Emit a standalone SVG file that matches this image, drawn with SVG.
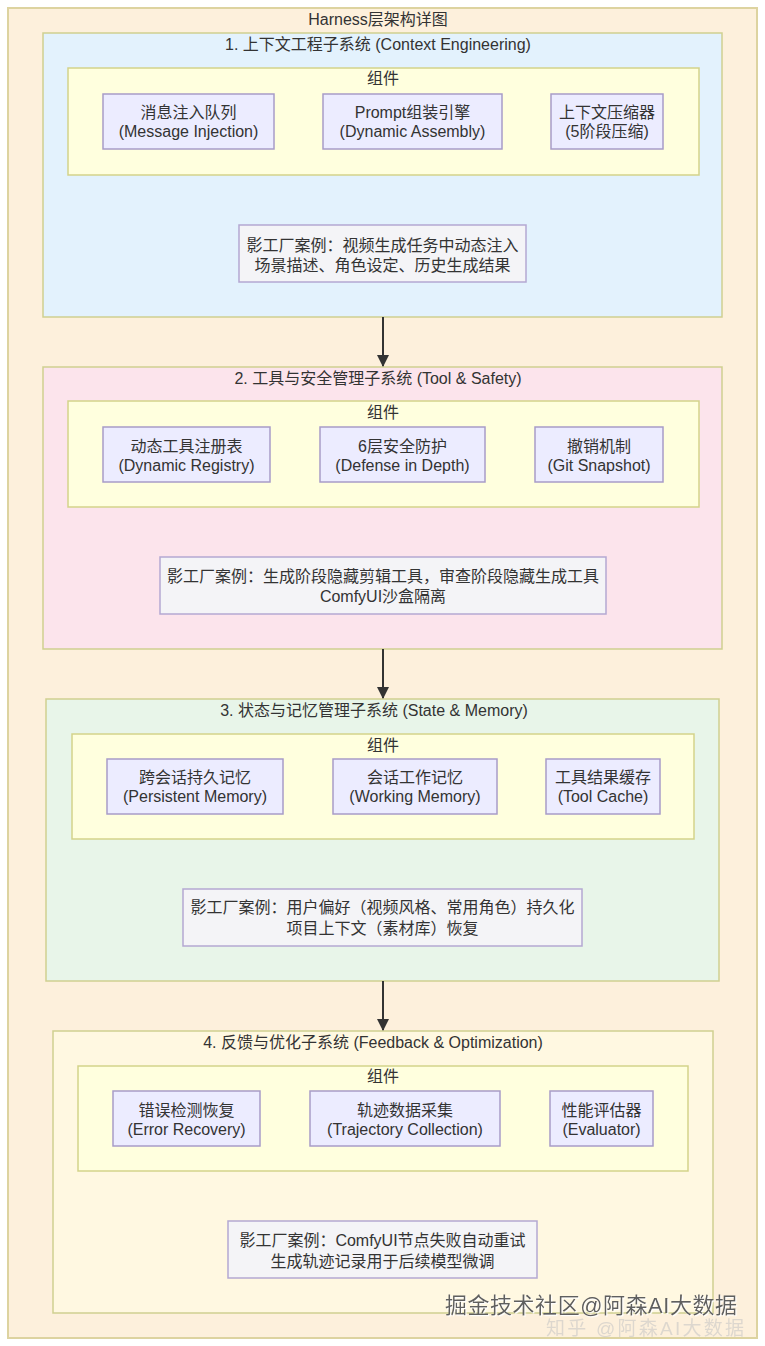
<svg xmlns="http://www.w3.org/2000/svg" width="765" height="1346" viewBox="0 0 765 1346">
<style>
text{font-family:"Liberation Sans","Noto Sans CJK SC",sans-serif;font-size:16px;fill:#333;text-anchor:middle}
.outer{fill:#fdf0dc;stroke:#ddd3a0;stroke-width:2}
.sub{stroke:#cfcf90;stroke-width:1.5}
.inner{fill:#ffffde;stroke:#d4d38a;stroke-width:1.5}
.node{fill:#ececff;stroke:#a89cc8;stroke-width:1.5}
.case{fill:#f4f4f7;stroke:#b4a8d2;stroke-width:1.5}
.edge{stroke:#333;stroke-width:2;fill:none}
.wm{font-size:22px;fill:#5e5e5e;text-anchor:start}
</style>
<defs>
<marker id="arrow" viewBox="0 0 12 12" refX="11" refY="6" markerWidth="12" markerHeight="12" markerUnits="userSpaceOnUse" orient="auto">
<path d="M0,0 L12,6 L0,12 z" fill="#333"/>
</marker>
<filter id="wmshadow" x="-5%" y="-30%" width="110%" height="160%">
<feDropShadow dx="1.2" dy="1.2" stdDeviation="0.4" flood-color="#ffffff" flood-opacity="1"/>
</filter>
</defs>

<g id="harness">
<rect class="outer" x="8" y="8" width="749" height="1330"/>
<text x="378" y="25">Harness层架构详图</text>
</g>

<g id="sub1">
<rect class="sub" x="43" y="33" width="679" height="284" fill="#e3f2fd"/>
<text x="378" y="50">1. 上下文工程子系统 (Context Engineering)</text>
<g id="comp1">
<rect class="inner" x="68" y="68" width="631" height="107"/>
<text x="383" y="84">组件</text>
</g>
<g id="n1a"><rect class="node" x="103" y="94" width="171" height="55"/><text x="188.5" y="118">消息注入队列</text><text x="188.5" y="137">(Message Injection)</text></g>
<g id="n1b"><rect class="node" x="323" y="94" width="179" height="55"/><text x="412.5" y="118">Prompt组装引擎</text><text x="412.5" y="137">(Dynamic Assembly)</text></g>
<g id="n1c"><rect class="node" x="551" y="94" width="112" height="55"/><text x="607" y="118">上下文压缩器</text><text x="607" y="137">(5阶段压缩)</text></g>
<g id="case1"><rect class="case" x="239" y="225" width="287" height="57"/><text x="382.5" y="251">影工厂案例：视频生成任务中动态注入</text><text x="382.5" y="271">场景描述、角色设定、历史生成结果</text></g>
</g>

<g id="sub2">
<rect class="sub" x="43" y="367" width="679" height="282" fill="#fce4ec"/>
<text x="378" y="384">2. 工具与安全管理子系统 (Tool &amp; Safety)</text>
<g id="comp2">
<rect class="inner" x="68" y="401" width="631" height="106"/>
<text x="383" y="418">组件</text>
</g>
<g id="n2a"><rect class="node" x="103" y="427" width="167" height="55"/><text x="186.5" y="452">动态工具注册表</text><text x="186.5" y="471">(Dynamic Registry)</text></g>
<g id="n2b"><rect class="node" x="320" y="427" width="165" height="55"/><text x="402.5" y="452">6层安全防护</text><text x="402.5" y="471">(Defense in Depth)</text></g>
<g id="n2c"><rect class="node" x="535" y="427" width="128" height="55"/><text x="599" y="452">撤销机制</text><text x="599" y="471">(Git Snapshot)</text></g>
<g id="case2"><rect class="case" x="160" y="557" width="446" height="57"/><text x="383" y="582">影工厂案例：生成阶段隐藏剪辑工具，审查阶段隐藏生成工具</text><text x="383" y="602">ComfyUI沙盒隔离</text></g>
</g>

<g id="sub3">
<rect class="sub" x="46" y="699" width="673" height="282" fill="#e8f5e9"/>
<text x="374" y="716">3. 状态与记忆管理子系统 (State &amp; Memory)</text>
<g id="comp3">
<rect class="inner" x="72" y="734" width="622" height="105"/>
<text x="383" y="751">组件</text>
</g>
<g id="n3a"><rect class="node" x="107" y="759" width="176" height="55"/><text x="195" y="783">跨会话持久记忆</text><text x="195" y="802">(Persistent Memory)</text></g>
<g id="n3b"><rect class="node" x="333" y="759" width="164" height="55"/><text x="415" y="783">会话工作记忆</text><text x="415" y="802">(Working Memory)</text></g>
<g id="n3c"><rect class="node" x="546" y="759" width="114" height="55"/><text x="603" y="783">工具结果缓存</text><text x="603" y="802">(Tool Cache)</text></g>
<g id="case3"><rect class="case" x="183" y="889" width="399" height="57"/><text x="382.5" y="913">影工厂案例：用户偏好（视频风格、常用角色）持久化</text><text x="382.5" y="934">项目上下文（素材库）恢复</text></g>
</g>

<g id="sub4">
<rect class="sub" x="53" y="1031" width="660" height="282" fill="#fff8e1"/>
<text x="373" y="1048">4. 反馈与优化子系统 (Feedback &amp; Optimization)</text>
<g id="comp4">
<rect class="inner" x="78" y="1066" width="610" height="105"/>
<text x="383" y="1082">组件</text>
</g>
<g id="n4a"><rect class="node" x="113" y="1091" width="147" height="55"/><text x="186.5" y="1116">错误检测恢复</text><text x="186.5" y="1135">(Error Recovery)</text></g>
<g id="n4b"><rect class="node" x="310" y="1091" width="190" height="55"/><text x="405" y="1116">轨迹数据采集</text><text x="405" y="1135">(Trajectory Collection)</text></g>
<g id="n4c"><rect class="node" x="550" y="1091" width="103" height="55"/><text x="601.5" y="1116">性能评估器</text><text x="601.5" y="1135">(Evaluator)</text></g>
<g id="case4"><rect class="case" x="228" y="1221" width="309" height="57"/><text x="382.5" y="1246">影工厂案例：ComfyUI节点失败自动重试</text><text x="382.5" y="1267">生成轨迹记录用于后续模型微调</text></g>
</g>

<g id="connectors">
<line class="edge" x1="383" y1="317" x2="383" y2="366" marker-end="url(#arrow)"/>
<line class="edge" x1="383" y1="649" x2="383" y2="698" marker-end="url(#arrow)"/>
<line class="edge" x1="383" y1="981" x2="383" y2="1030" marker-end="url(#arrow)"/>
</g>

<g id="watermark">
<text class="wm" x="546" y="1335" style="fill:#c4c4c4;opacity:0.55;font-size:19px" textLength="198">知乎 @阿森AI大数据</text>
<text class="wm" x="445" y="1313" textLength="292" filter="url(#wmshadow)">掘金技术社区@阿森AI大数据</text>
</g>
</svg>
